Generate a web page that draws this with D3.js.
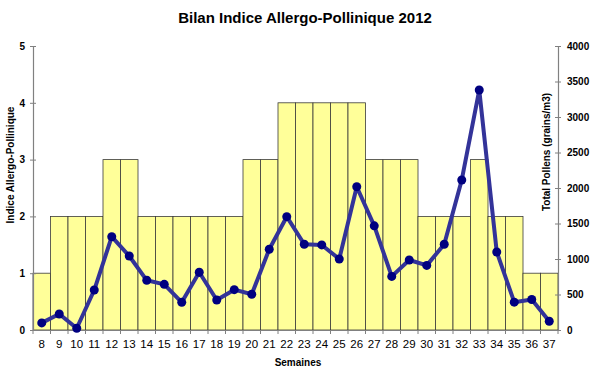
<!DOCTYPE html>
<html><head><meta charset="utf-8">
<script src="https://cdn.jsdelivr.net/npm/d3@7"></script>
<style>body{margin:0;background:#fff}svg{display:block;font-family:Arial,"Liberation Sans",sans-serif}</style>
</head><body><svg id="c" width="600" height="371"></svg>
<script>
const weeks = [8,9,10,11,12,13,14,15,16,17,18,19,20,21,22,23,24,25,26,27,28,29,30,31,32,33,34,35,36,37];
const indice = [1,2,2,2,3,3,2,2,2,2,2,2,3,3,4,4,4,4,4,3,3,3,2,2,2,3,2,2,1,1];
const pollens = [100,225,25,563,1314,1042,700,643,390,813,423,568,503,1137,1596,1208,1198,1000,2018,1467,755,986,910,1208,2113,3380,1099,392,429,123];
const leftTicks = [0,1,2,3,4,5];
const rightTicks = [0,500,1000,1500,2000,2500,3000,3500,4000];

const svg = d3.select("#c");
const L = 33, R = 558, T = 46, B = 330;
const x = d3.scaleBand().domain(weeks).range([L, R]).padding(0);
const yL = d3.scaleLinear().domain([0,5]).range([B, T]);
const yR = d3.scaleLinear().domain([0,4000]).range([B, T]);

svg.append("text").attr("x", 305).attr("y", 23).attr("text-anchor","middle")
  .attr("font-size", 15).attr("font-weight","bold").attr("fill","#000")
  .text("Bilan Indice Allergo-Pollinique 2012");

svg.append("g").selectAll("rect").data(weeks).join("rect")
  .attr("x", d => x(d)).attr("width", x.bandwidth())
  .attr("y", (d,i) => yL(indice[i])).attr("height", (d,i) => B - yL(indice[i]))
  .attr("fill", "#FFFF99").attr("stroke", "#3a3a3a").attr("stroke-width", 0.8);

const axL = d3.axisLeft(yL).tickValues(leftTicks).tickSize(0).tickPadding(8).tickFormat(d3.format("d"));
const gL = svg.append("g").attr("transform", `translate(${L},0)`).call(axL);
const axR = d3.axisRight(yR).tickValues(rightTicks).tickSize(0).tickPadding(9).tickFormat(d3.format("d"));
const gR = svg.append("g").attr("transform", `translate(${R},0)`).call(axR);
const axB = d3.axisBottom(x).tickSize(0).tickPadding(10);
const gB = svg.append("g").attr("transform", `translate(0,${B})`).call(axB);

[gL, gR, gB].forEach(g => {
  g.select(".domain").attr("stroke", "#808080").attr("stroke-width", 1.2);
  g.selectAll("text").attr("fill", "#000").attr("font-family", "Arial, 'Liberation Sans', sans-serif");
});
gL.selectAll("text").attr("font-size", 10).attr("font-weight", "bold");
gR.selectAll("text").attr("font-size", 10).attr("font-weight", "bold");
gB.selectAll("text").attr("font-size", 11.5);

// cross ticks
gL.selectAll(".tick").append("line").attr("x1", -3).attr("x2", 3).attr("stroke", "#808080");
gR.selectAll(".tick").append("line").attr("x1", -3).attr("x2", 3).attr("stroke", "#808080");
const bEdges = weeks.map(w => x(w)).concat([R]);
svg.append("g").selectAll("line").data(bEdges).join("line")
  .attr("x1", d => d).attr("x2", d => d).attr("y1", B).attr("y2", B + 4)
  .attr("stroke", "#808080");

const line = d3.line().x((d,i) => x(weeks[i]) + x.bandwidth()/2).y(d => yR(d));
svg.append("path").datum(pollens).attr("d", line).attr("fill","none")
  .attr("stroke", "#333399").attr("stroke-width", 4).attr("stroke-linejoin","round");
svg.append("g").selectAll("circle").data(pollens).join("circle")
  .attr("cx", (d,i) => x(weeks[i]) + x.bandwidth()/2).attr("cy", d => yR(d)).attr("r", 4.5)
  .attr("fill", "#000080");

svg.append("text").attr("transform", "translate(14,165) rotate(-90)").attr("text-anchor","middle")
  .attr("font-size", 10).attr("font-weight","bold").text("Indice Allergo-Pollinique");
svg.append("text").attr("transform", "translate(550,152) rotate(-90)").attr("text-anchor","middle")
  .attr("font-size", 10).attr("font-weight","bold").text("Total Pollens (grains/m3)");
svg.append("text").attr("x", 298).attr("y", 366).attr("text-anchor","middle")
  .attr("font-size", 10).attr("font-weight","bold").text("Semaines");
</script></body></html>
